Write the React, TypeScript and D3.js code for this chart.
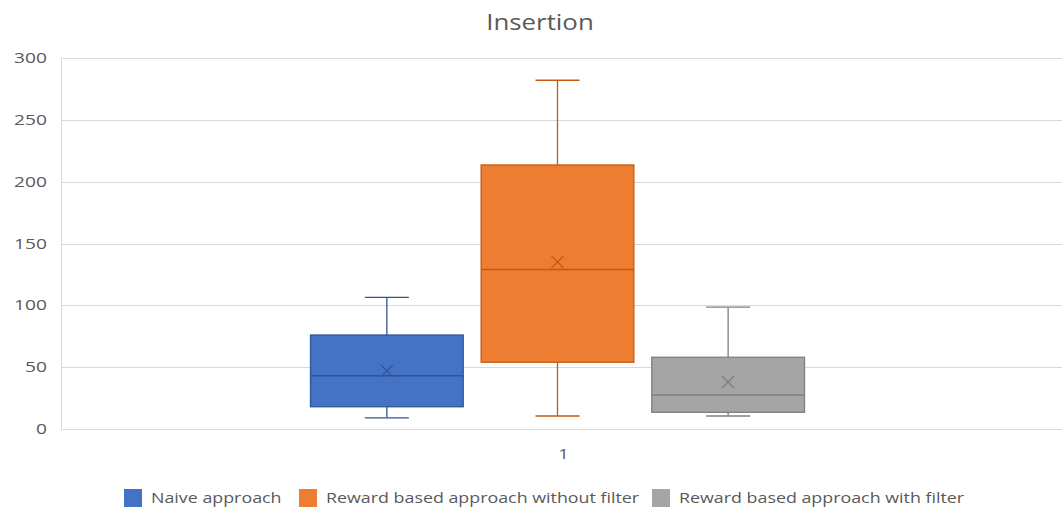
import React from "react";
import * as d3 from "d3";

// Five-number summaries plus mean for each approach
const categories = ["1"];
const seriesNames = [
  "Naive approach",
  "Reward based approach without filter",
  "Reward based approach with filter",
];
const whiskerLow = [9, 10.5, 10.5];
const q1 = [18, 54, 13.5];
const median = [43, 129, 27.5];
const q3 = [76, 213.5, 58];
const whiskerHigh = [106.5, 282, 98.5];
const means = [47, 135, 38];
const yTicks = [0, 50, 100, 150, 200, 250, 300];

const fills = ["#4472C4", "#ED7D31", "#A5A5A5"];
const strokes = ["#2F5597", "#C55A11", "#7F7F7F"];

const W = 1062;
const H = 511;
const margin = { top: 58, right: 0, bottom: 82, left: 61 };
const FONT = "'Open Sans', 'Noto Sans', sans-serif";
// the text face is set a little wide
const SX = 1.23;

function WideText(props: {
  x: number;
  y: number;
  anchor?: "start" | "middle" | "end";
  size: number;
  sx?: number;
  children: React.ReactNode;
}) {
  return (
    <text
      transform={`translate(${props.x},${props.y}) scale(${props.sx ?? SX},1)`}
      textAnchor={props.anchor ?? "start"}
      fontSize={props.size}
      fill="#595959"
    >
      {props.children}
    </text>
  );
}

export default function App() {
  const y = d3
    .scaleLinear()
    .domain([0, 300])
    .range([H - margin.bottom, margin.top]);
  const x = d3
    .scaleBand<string>()
    .domain(categories)
    .range([margin.left, W - margin.right]);
  const cx = (x(categories[0]) ?? 0) + x.bandwidth() / 2;
  const groupHalf = 247;
  const inner = d3
    .scaleBand<string>()
    .domain(seriesNames)
    .range([cx - groupHalf - 4, cx + groupHalf - 4])
    .paddingInner(0.105);
  const bw = inner.bandwidth();
  const capHalf = 22;

  const legendX = [124, 299, 652];

  return (
    <svg
      width={W}
      height={H}
      style={{ position: "absolute", left: 0, top: 0, background: "#fff" }}
      fontFamily={FONT}
    >
      <WideText x={540} y={30} anchor="middle" size={21}>
        Insertion
      </WideText>

      {/* gridlines and y labels */}
      {yTicks.map((t) => (
        <g key={t}>
          <line
            x1={margin.left}
            x2={W - margin.right}
            y1={Math.round(y(t)) + 0.5}
            y2={Math.round(y(t)) + 0.5}
            stroke="#D9D9D9"
            strokeWidth={1}
          />
          <WideText x={47} y={y(t) + 5} anchor="end" size={15} sx={1.28}>
            {t}
          </WideText>
        </g>
      ))}
      <line
        x1={margin.left + 0.5}
        x2={margin.left + 0.5}
        y1={y(300)}
        y2={y(0)}
        stroke="#D9D9D9"
      />

      {seriesNames.map((s, i) => {
        const x0 = inner(s) ?? 0;
        const mx = x0 + bw / 2;
        const st = strokes[i];
        return (
          <g key={s}>
            {/* whiskers */}
            <line x1={mx} x2={mx} y1={y(whiskerHigh[i])} y2={y(q3[i])} stroke={st} strokeWidth={1.3} />
            <line x1={mx} x2={mx} y1={y(q1[i])} y2={y(whiskerLow[i])} stroke={st} strokeWidth={1.3} />
            <line x1={mx - capHalf} x2={mx + capHalf} y1={y(whiskerHigh[i])} y2={y(whiskerHigh[i])} stroke={st} strokeWidth={1.3} />
            <line x1={mx - capHalf} x2={mx + capHalf} y1={y(whiskerLow[i])} y2={y(whiskerLow[i])} stroke={st} strokeWidth={1.3} />
            {/* box */}
            <rect
              x={x0}
              y={y(q3[i])}
              width={bw}
              height={y(q1[i]) - y(q3[i])}
              fill={fills[i]}
              stroke={st}
              strokeWidth={1.3}
            />
            <line x1={x0} x2={x0 + bw} y1={y(median[i])} y2={y(median[i])} stroke={st} strokeWidth={1.5} />
            {/* mean marker */}
            <g transform={`translate(${mx},${y(means[i])})`} stroke={st} strokeWidth={1.3}>
              <line x1={-6} y1={-6} x2={6} y2={6} />
              <line x1={-6} y1={6} x2={6} y2={-6} />
            </g>
          </g>
        );
      })}

      {/* category label */}
      <WideText x={cx + 2} y={459} anchor="middle" size={15}>
        {categories[0]}
      </WideText>

      {/* legend */}
      {seriesNames.map((s, i) => (
        <g key={s} transform={`translate(${legendX[i]},489)`}>
          <rect x={0} y={0} width={18} height={18} fill={fills[i]} />
          <WideText x={27} y={14} size={14.5}>
            {s}
          </WideText>
        </g>
      ))}
    </svg>
  );
}
